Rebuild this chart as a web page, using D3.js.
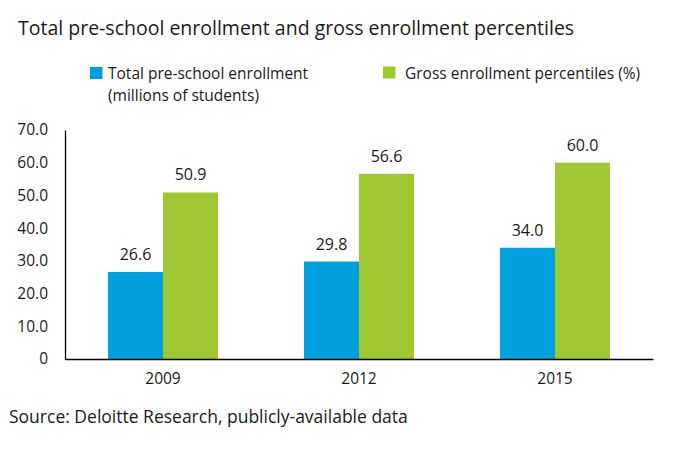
<!DOCTYPE html>
<html><head><meta charset="utf-8">
<script src="https://cdn.jsdelivr.net/npm/d3@7"></script>
<style>
body{margin:0;background:#fff;}
svg{display:block;font-family:"Open Sans",sans-serif;}
</style></head><body>
<svg id="c" width="697" height="449"></svg>
<script>
const categories = ["2009", "2012", "2015"];
const seriesNames = ["Total pre-school enrollment", "Gross enrollment percentiles (%)"];
const enrollment = [26.6, 29.8, 34.0];
const grossPct = [50.9, 56.6, 60.0];
const yTicks = [0, 10, 20, 30, 40, 50, 60, 70];
const colors = ["#00a0df", "#9fc733"];

const svg = d3.select("#c");
const W = 697, H = 449;
const m = {left: 65, right: 44, top: 130, bottom: 90};
const x0 = d3.scaleBand().domain(categories).range([m.left, W - m.right]).padding(0);
const barW = 55;
const pOuter = (x0.bandwidth() / barW - 2) / 2;
const x1 = d3.scaleBand().domain([0, 1]).range([0, x0.bandwidth()]).paddingInner(0).paddingOuter(pOuter);
const y = d3.scaleLinear().domain([0, 70]).range([H - m.bottom, m.top]);
const textColor = "#1a1a1a";

// title
svg.append("text").attr("x", 18).attr("y", 35).attr("font-size", 19.5).attr("fill", textColor)
  .text("Total pre-school enrollment and gross enrollment percentiles");

// legend
const leg = svg.append("g").attr("font-size", 15.5).attr("fill", textColor);
leg.append("rect").attr("x", 90).attr("y", 67).attr("width", 12.5).attr("height", 12).attr("fill", colors[0]);
leg.append("text").attr("x", 108).attr("y", 78.5).text(seriesNames[0]);
leg.append("text").attr("x", 108).attr("y", 100.5).text("(millions of students)");
leg.append("rect").attr("x", 383).attr("y", 66.5).attr("width", 12.5).attr("height", 12).attr("fill", colors[1]);
leg.append("text").attr("x", 405).attr("y", 78.5).text(seriesNames[1]);

// bars
const data = categories.map((c, i) => ({cat: c, vals: [enrollment[i], grossPct[i]]}));
const g = svg.append("g");
const grp = g.selectAll("g.grp").data(data).join("g").attr("class", "grp")
  .attr("transform", d => `translate(${x0(d.cat)},0)`);
grp.selectAll("rect").data(d => d.vals.map((v, k) => ({k, v}))).join("rect")
  .attr("x", d => x1(d.k)).attr("width", x1.bandwidth())
  .attr("y", d => y(d.v)).attr("height", d => y(0) - y(d.v))
  .attr("fill", d => colors[d.k]);
grp.selectAll("text").data(d => d.vals.map((v, k) => ({k, v}))).join("text")
  .attr("x", d => x1(d.k) + x1.bandwidth() / 2).attr("y", d => y(d.v) - 12)
  .attr("text-anchor", "middle").attr("font-size", 16).attr("fill", textColor)
  .text(d => d.v.toFixed(1));

// axes
const yAxis = svg.append("g").attr("transform", `translate(${m.left},0)`)
  .call(d3.axisLeft(y).tickValues(yTicks).tickSize(0).tickPadding(17)
    .tickFormat(d => d === 0 ? "0" : d3.format(".1f")(d)));
yAxis.select(".domain").attr("stroke", "#000").attr("stroke-width", 1.3);
yAxis.selectAll("text").attr("font-size", 15.5).attr("fill", textColor).attr("font-family", "Open Sans");

const xAxis = svg.append("g").attr("transform", `translate(0,${y(0)})`)
  .call(d3.axisBottom(x0).tickSize(0).tickPadding(14));
xAxis.select(".domain").attr("stroke", "#000").attr("stroke-width", 1.3);
xAxis.selectAll("text").attr("font-size", 15.5).attr("fill", textColor).attr("font-family", "Open Sans");

// source
svg.append("text").attr("x", 9).attr("y", 423).attr("font-size", 17.5).attr("fill", textColor)
  .text("Source: Deloitte Research, publicly-available data");
</script>
</body></html>
